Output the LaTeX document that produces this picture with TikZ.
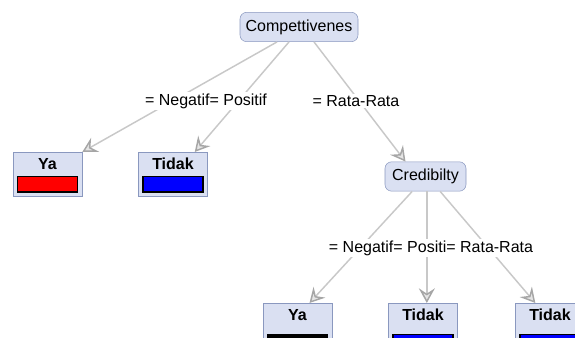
\documentclass[tikz,border=0pt]{standalone}
\usepackage{fontspec}
\setmainfont{Liberation Sans}
\usetikzlibrary{arrows.meta}
\definecolor{boxfill}{HTML}{DAE0F2}
\definecolor{boxline}{HTML}{8A98BF}
\definecolor{edgegray}{HTML}{C8C8C8}
\begin{document}
\begin{tikzpicture}[x=0.75pt,y=-0.75pt,
  attr/.style={draw=boxline,fill=boxfill,rounded corners=5pt,inner sep=1pt,minimum height=22pt,font=\fontsize{12}{14}\selectfont},
  leaf/.style={draw=boxline,fill=boxfill,anchor=north,minimum width=51.75pt,minimum height=33pt},
  leaftxt/.style={font=\fontsize{12}{14}\selectfont\bfseries,inner sep=0pt},
  bar/.style={draw=black,line width=0.9pt,anchor=north,minimum width=45pt,minimum height=11.5pt,inner sep=0pt},
  cond/.style={font=\fontsize{12}{14}\selectfont,fill=white,inner sep=1pt},
  edge/.style={draw=edgegray,line width=1.1pt,-{Stealth[length=11pt,width=12pt,inset=4pt,open,color=gray!70,fill=gray!20]}}]
  \useasboundingbox (0,0) rectangle (575,338);
  \clip (0,0) rectangle (575,338);
  % root and inner node
  \node[attr,minimum width=88.5pt] (comp) at (299,27) {Compettivenes};
  \node[attr,minimum width=60.75pt] (cred) at (425.5,176.5) {Credibilty};
  % leaves, first level
  \node[leaf] (ya1) at (47.5,152) {};
  \node[leaftxt] (ya1t) at ([yshift=-9pt]ya1.north) {Ya};
  \node[bar,fill=red] (ya1b) at ([yshift=-18pt]ya1.north) {};
  \node[leaf] (td1) at (173,152) {};
  \node[leaftxt] (td1t) at ([yshift=-9pt]td1.north) {Tidak};
  \node[bar,fill=blue] (td1b) at ([yshift=-18pt]td1.north) {};
  % leaves, second level
  \node[leaf,minimum height=40pt] (ya2) at (297.5,303) {};
  \node[leaftxt] (ya2t) at ([yshift=-9pt]ya2.north) {Ya};
  \node[bar,fill=black] (ya2b) at ([yshift=-23.25pt]ya2.north) {};
  \node[leaf,minimum height=40pt] (td2) at (423,303) {};
  \node[leaftxt] (td2t) at ([yshift=-9pt]td2.north) {Tidak};
  \node[bar,fill=blue] (td2b) at ([yshift=-23.25pt]td2.north) {};
  \node[leaf,minimum height=40pt] (td3) at (550,303) {};
  \node[leaftxt] (td3t) at ([yshift=-9pt]td3.north) {Tidak};
  \node[bar,fill=blue] (td3b) at ([yshift=-23.25pt]td3.north) {};
  % edges
  \draw[edge] ([xshift=-16.5pt]comp.south) -- (ya1.north east);
  \draw[edge] ([xshift=-7.5pt]comp.south) -- ([xshift=-9.75pt]td1.north east);
  \draw[edge] ([xshift=11.25pt]comp.south) -- ([xshift=-15pt]cred.north);
  \draw[edge] ([xshift=-10pt]cred.south) -- ([xshift=9pt]ya2.north);
  \draw[edge] ([xshift=1pt]cred.south) -- ([xshift=1pt]cred.south |- td2.north);
  \draw[edge] ([xshift=11pt]cred.south) -- ([xshift=-11pt]td3.north);
  % edge labels
  \node[cond] (c1) at (206,101) {= Negatif= Positif};
  \node[cond] (c2) at (356,101) {= Rata-Rata};
  \node[cond] (c3) at (431,248) {= Negatif= Positi= Rata-Rata};
\end{tikzpicture}
\end{document}
